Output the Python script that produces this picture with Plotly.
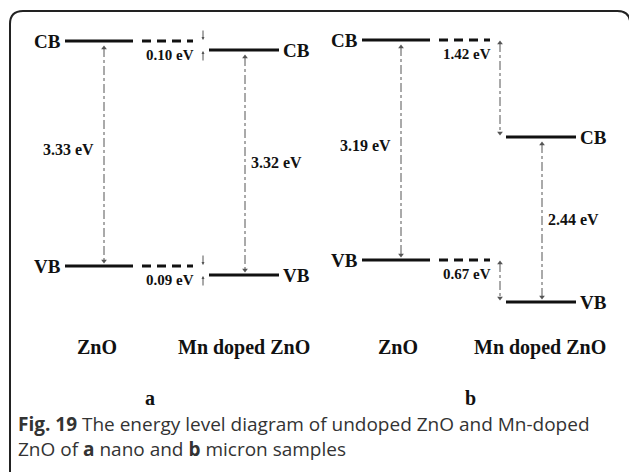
import plotly.graph_objects as go

# band edges, per panel (a = nano, b = micron), in px from top
panels = ['a', 'b']
cb_zno = [41, 40]
cb_mn = [50, 137]
vb_zno = [266, 260]
vb_mn = [275, 302]
gap_zno = ['3.33 eV', '3.19 eV']
gap_mn = ['3.32 eV', '2.44 eV']
cb_shift = ['0.10 eV', '1.42 eV']
vb_shift = ['0.09 eV', '0.67 eV']
materials = ['ZnO', 'Mn doped ZnO']

SERIF = 'Liberation Serif, Times New Roman, serif'
INK = '#111111'
GREY = '#555555'
W, H = 629, 472

fig = go.Figure()


def add_line(x0, x1, y, dash='solid', width=3):
	fig.add_trace(go.Scatter(
		x=[x0, x1], y=[y, y], mode='lines',
		line=dict(color=INK, width=width, dash=dash), hoverinfo='skip'
	))


def add_double_arrow(x, y_top, y_bot):
	fig.add_trace(go.Scatter(
		x=[x, x], y=[y_top, y_bot], mode='lines+markers',
		line=dict(color=GREY, width=1, dash='dashdot'),
		marker=dict(symbol=['triangle-up', 'triangle-down'], size=5, color=GREY),
		hoverinfo='skip'
	))


def add_text(x, y, text, size=19, anchor='center', family=SERIF, color=INK):
	fig.add_annotation(
		x=x, y=y, text=text, showarrow=False, xanchor=anchor, yanchor='middle',
		font=dict(family=family, size=size, color=color)
	)


def add_pointer(x, y_from, y_to):
	fig.add_annotation(
		x=x, y=y_to, ax=x, ay=y_from, axref='x', ayref='y', text='',
		showarrow=True, arrowhead=2, arrowsize=0.6, arrowwidth=1, arrowcolor=GREY
	)


offsets = [0, 297]
for i, p in enumerate(panels):
	dx = offsets[i]
	zx0, zx1 = 65 + dx, 133 + dx
	mx0, mx1 = 209 + dx, 279 + dx
	dash0, dash1 = 142 + dx, 193 + dx
	ax_shift = 203 + dx
	ax_zno = 104 + dx
	ax_mn = 245 + dx

	for lev_z, lev_m, name, shift in [
		(cb_zno[i], cb_mn[i], 'CB', cb_shift[i]),
		(vb_zno[i], vb_mn[i], 'VB', vb_shift[i]),
	]:
		add_line(zx0, zx1, lev_z)
		add_line(dash0, dash1, lev_z, dash='9px,6px')
		add_line(mx0, mx1, lev_m)
		add_text(zx0 - 2, lev_z, '<b>' + name + '</b>', anchor='right')
		add_text(mx1 + 2, lev_m, '<b>' + name + '</b>', anchor='left')
		add_text((dash0 + dash1) / 2 + 2, lev_z + 14, '<b>' + shift + '</b>', size=15)
		if lev_m - lev_z < 20:
			add_pointer(ax_shift, lev_z - 12, lev_z - 1)
			add_pointer(ax_shift, lev_m + 12, lev_m + 1)
		else:
			add_double_arrow(ax_shift, lev_z + 3, lev_m - 4)

	add_double_arrow(ax_zno, cb_zno[i] + 7, vb_zno[i] - 5)
	add_double_arrow(ax_mn, cb_mn[i] + 7, vb_mn[i] - 5)
	add_text(ax_zno - 8, cb_zno[i] + 0.48 * (vb_zno[i] - cb_zno[i]),
		'<b>' + gap_zno[i] + '</b>', size=16, anchor='right')
	add_text(ax_mn + 4, cb_mn[i] + 0.5 * (vb_mn[i] - cb_mn[i]),
		'<b>' + gap_mn[i] + '</b>', size=16, anchor='left')

	add_text([97, 398][i], 347, '<b>' + materials[0] + '</b>', size=20)
	add_text([244, 540][i], 347, '<b>' + materials[1] + '</b>', size=20)
	add_text([150, 470][i], 398, '<b>' + p + '</b>', size=20)

caption_font = 'Open Sans, Noto Sans, sans-serif'
fig.add_annotation(
	x=16, y=424, text='<b>Fig. 19</b> The energy level diagram of undoped ZnO and Mn-doped',
	showarrow=False, xanchor='left', yanchor='middle',
	font=dict(family=caption_font, size=19, color='#333333')
)
fig.add_annotation(
	x=16, y=449, text='ZnO of <b>a</b> nano and <b>b</b> micron samples',
	showarrow=False, xanchor='left', yanchor='middle',
	font=dict(family=caption_font, size=19, color='#333333')
)

# rounded frame around the figure (paper coords so it is not clipped)
left, top, r = 10 / W, 1 - 11 / H, 13
rx, ry = r / W, r / H
frame = (
	f'M {left} -0.05 L {left} {top - ry} Q {left} {top} {left + rx} {top} '
	f'L {1.002 - rx} {top} Q 1.002 {top} 1.002 {top - ry} L 1.002 -0.05'
)
fig.add_shape(type='path', xref='paper', yref='paper', path=frame,
	line=dict(color='#222222', width=2))

fig.update_layout(
	width=W, height=H, margin=dict(l=0, r=0, t=0, b=0),
	paper_bgcolor='white', plot_bgcolor='white', showlegend=False,
	xaxis=dict(range=[0, W], visible=False, fixedrange=True),
	yaxis=dict(range=[H, 0], visible=False, fixedrange=True),
)

fig.write_html('out.html', config={'displayModeBar': False},
	post_script="document.body.style.margin='0';")
